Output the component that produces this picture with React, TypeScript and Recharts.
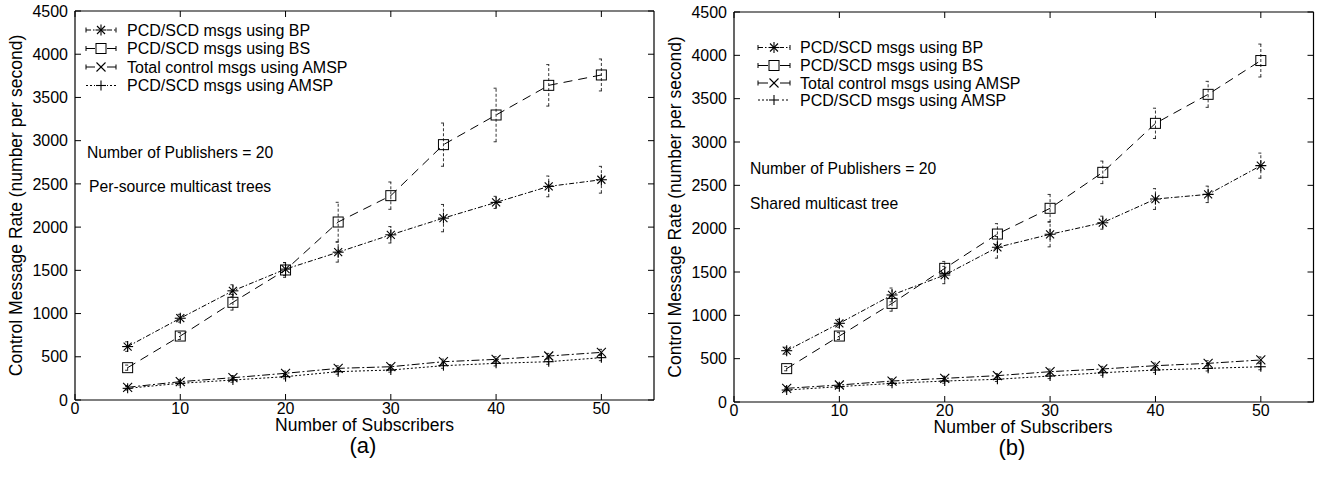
import React from 'react';
import { LineChart, Line, XAxis, YAxis, ErrorBar } from 'recharts';

const FONT = '"Liberation Sans", Arial, Helvetica, sans-serif';

// Categories / ticks
const subscribers = [5, 10, 15, 20, 25, 30, 35, 40, 45, 50];
const xTicks = [0, 10, 20, 30, 40, 50];
const yTicks = [0, 500, 1000, 1500, 2000, 2500, 3000, 3500, 4000, 4500];

const seriesNames = [
  'PCD/SCD msgs using BP',
  'PCD/SCD msgs using BS',
  'Total control msgs using AMSP',
  'PCD/SCD msgs using AMSP',
];

// (a) Per-source multicast trees
const bpA = [618, 946, 1263, 1514, 1710, 1911, 2104, 2286, 2471, 2548];
const bpAErr = [55, 45, 70, 75, 115, 95, 158, 70, 120, 155];
const bsA = [374, 740, 1130, 1504, 2059, 2364, 2954, 3297, 3640, 3760];
const bsAErr = [30, 40, 90, 85, 228, 158, 250, 310, 240, 185];
const totA = [147, 212, 258, 309, 366, 385, 443, 470, 509, 551];
const totAErr = [20, 20, 25, 25, 30, 25, 30, 30, 30, 35];
const amspA = [135, 193, 231, 270, 328, 347, 397, 424, 443, 490];
const amspAErr = [20, 20, 25, 25, 30, 25, 30, 30, 30, 35];

// (b) Shared multicast tree
const bpB = [592, 908, 1235, 1465, 1785, 1935, 2069, 2342, 2396, 2727];
const bpBErr = [40, 45, 80, 100, 125, 145, 75, 120, 95, 145];
const bsB = [385, 761, 1138, 1542, 1938, 2235, 2650, 3215, 3550, 3940];
const bsBErr = [25, 40, 90, 80, 120, 160, 130, 175, 150, 190];
const totB = [158, 196, 242, 273, 304, 350, 381, 419, 446, 485];
const totBErr = [20, 20, 25, 25, 25, 30, 30, 30, 30, 35];
const amspB = [138, 177, 215, 242, 262, 300, 338, 369, 388, 407];
const amspBErr = [20, 20, 25, 25, 25, 30, 30, 30, 30, 35];

const build = (bp: number[], bpE: number[], bs: number[], bsE: number[], tot: number[], totE: number[], am: number[], amE: number[]) =>
  subscribers.map((x, i) => ({
    x,
    bp: bp[i], bpErr: bpE[i],
    bs: bs[i], bsErr: bsE[i],
    tot: tot[i], totErr: totE[i],
    amsp: am[i], amspErr: amE[i],
  }));

const dataA = build(bpA, bpAErr, bsA, bsAErr, totA, totAErr, amspA, amspAErr);
const dataB = build(bpB, bpBErr, bsB, bsBErr, totB, totBErr, amspB, amspBErr);

const DASH = {
  bp: '5 2 1.5 2',
  bs: '9 6',
  tot: '8 2.5 2 2.5',
  amsp: '2 2',
};

function markAsterisk(cx: number, cy: number, k?: string) {
  const r = 5.5;
  const d = 4;
  return (
    <g key={k} stroke="#000" strokeWidth={1.1} fill="none">
      <line x1={cx - r} y1={cy} x2={cx + r} y2={cy} />
      <line x1={cx} y1={cy - r} x2={cx} y2={cy + r} />
      <line x1={cx - d} y1={cy - d} x2={cx + d} y2={cy + d} />
      <line x1={cx - d} y1={cy + d} x2={cx + d} y2={cy - d} />
    </g>
  );
}
function markSquare(cx: number, cy: number, k?: string) {
  const s = 5;
  return <rect key={k} x={cx - s} y={cy - s} width={2 * s} height={2 * s} stroke="#000" strokeWidth={1} fill="none" />;
}
function markX(cx: number, cy: number, k?: string) {
  const d = 4.5;
  return (
    <g key={k} stroke="#000" strokeWidth={1.1}>
      <line x1={cx - d} y1={cy - d} x2={cx + d} y2={cy + d} />
      <line x1={cx - d} y1={cy + d} x2={cx + d} y2={cy - d} />
    </g>
  );
}
function markPlus(cx: number, cy: number, k?: string) {
  const r = 5;
  return (
    <g key={k} stroke="#000" strokeWidth={1.1}>
      <line x1={cx - r} y1={cy} x2={cx + r} y2={cy} />
      <line x1={cx} y1={cy - r} x2={cx} y2={cy + r} />
    </g>
  );
}

const markers = [markAsterisk, markSquare, markX, markPlus];
const keys = ['bp', 'bs', 'tot', 'amsp'] as const;

const NoLabel = () => <g />;

type PanelProps = {
  left: number;
  width: number;
  plotLeft: number;
  plotRight: number;
  plotTop: number;
  plotBottom: number;
  data: any[];
};

function Panel({ left, width, plotLeft, plotRight, plotTop, plotBottom, data }: PanelProps) {
  const xAxisH = 30;
  const margin = {
    top: plotTop - 1,
    right: width - (plotRight - left) - 1,
    bottom: 477 - plotBottom - xAxisH,
    left: 0,
  };
  const tickStyle = { fontSize: 16, fill: '#000', fontFamily: FONT };
  const axisLine = { stroke: '#000', strokeWidth: 1.2 };
  const tickLine = { stroke: '#000', strokeWidth: 1 };
  return (
    <div style={{ position: 'absolute', left, top: 0, width, height: 477 }}>
      <LineChart width={width} height={477} data={data} margin={margin}>
        <XAxis
          xAxisId="b"
          type="number"
          dataKey="x"
          domain={[0, 55]}
          ticks={xTicks}
          interval={0}
          height={xAxisH}
          tickSize={-6}
          tickMargin={9}
          tick={tickStyle}
          axisLine={axisLine}
          tickLine={tickLine}
          allowDataOverflow
        />
        <XAxis
          xAxisId="t"
          orientation="top"
          type="number"
          dataKey="x"
          domain={[0, 55]}
          ticks={xTicks}
          interval={0}
          height={1}
          tickSize={-6}
          tick={NoLabel}
          axisLine={axisLine}
          tickLine={tickLine}
          allowDataOverflow
        />
        <YAxis
          yAxisId="l"
          type="number"
          domain={[0, 4500]}
          ticks={yTicks}
          interval={0}
          width={plotLeft - left}
          tickSize={-6}
          tickMargin={13}
          tick={tickStyle}
          axisLine={axisLine}
          tickLine={tickLine}
          allowDataOverflow
        />
        <YAxis
          yAxisId="r"
          orientation="right"
          type="number"
          domain={[0, 4500]}
          ticks={yTicks}
          interval={0}
          width={1}
          tickSize={-6}
          tick={NoLabel}
          axisLine={axisLine}
          tickLine={tickLine}
          allowDataOverflow
        />
        {keys.map((k, si) => (
          <Line
            key={k}
            xAxisId="b"
            yAxisId="l"
            type="linear"
            dataKey={k}
            stroke="#000"
            strokeWidth={1}
            strokeDasharray={DASH[k]}
            dot={(p: any) => markers[si](p.cx, p.cy, `${k}-${p.index}`)}
            activeDot={false}
            isAnimationActive={false}
          >
            <ErrorBar
              dataKey={`${k}Err`}
              width={2.5}
              stroke="#000"
              strokeWidth={0.8}
              strokeDasharray="3 2"
              direction="y"
              isAnimationActive={false}
            />
          </Line>
        ))}
      </LineChart>
    </div>
  );
}

type LegendCfg = {
  x0: number;
  x1: number;
  mx: number;
  tx: number;
  rows: number[];
};

function LegendBlock({ x0, x1, mx, tx, rows }: LegendCfg) {
  return (
    <g>
      {keys.map((k, i) => {
        const y = rows[i];
        return (
          <g key={k}>
            <line x1={x0} y1={y} x2={x1} y2={y} stroke="#000" strokeWidth={1} strokeDasharray={k === 'bs' || k === 'tot' ? undefined : DASH[k]} />
            {k !== 'amsp' && <line x1={x0} y1={y - 2.5} x2={x0} y2={y + 2.5} stroke="#000" strokeWidth={1} />}
            {k !== 'amsp' && <line x1={x1} y1={y - 2.5} x2={x1} y2={y + 2.5} stroke="#000" strokeWidth={1} />}
            <rect x={mx - 6} y={y - 6} width={12} height={12} fill="#fff" stroke="none" />
            {markers[i](mx, y)}
            <text x={tx} y={y + 5.8} fontSize={16} fontFamily={FONT} fill="#000">
              {seriesNames[i]}
            </text>
          </g>
        );
      })}
    </g>
  );
}

const txt = { fontFamily: FONT, fill: '#000' } as const;

export default function App() {
  return (
    <div style={{ position: 'absolute', left: 0, top: 0, width: 1319, height: 477, background: '#fff', overflow: 'hidden' }}>
      <Panel left={0} width={660} plotLeft={75} plotRight={654} plotTop={11} plotBottom={400} data={dataA} />
      <Panel left={660} width={659} plotLeft={734} plotRight={1313.5} plotTop={12} plotBottom={402} data={dataB} />
      <svg width={1319} height={477} style={{ position: 'absolute', left: 0, top: 0, pointerEvents: 'none' }}>
        {/* Panel (a) */}
        <text {...txt} fontSize={17.5} textAnchor="middle" transform="rotate(-90 22 205.5)" x={22} y={205.5}>
          Control Message Rate (number per second)
        </text>
        <text {...txt} fontSize={17.5} textAnchor="middle" x={364.5} y={431}>Number of Subscribers</text>
        <text {...txt} fontSize={22} textAnchor="middle" x={363} y={453}>(a)</text>
        <LegendBlock x0={86} x1={116} mx={101} tx={127} rows={[30, 48.5, 67, 85.5]} />
        <text {...txt} fontSize={15.7} x={87} y={158}>Number of Publishers = 20</text>
        <text {...txt} fontSize={15.7} x={89} y={192}>Per-source multicast trees</text>

        {/* Panel (b) */}
        <text {...txt} fontSize={17.5} textAnchor="middle" transform="rotate(-90 681 207)" x={681} y={207}>
          Control Message Rate (number per second)
        </text>
        <text {...txt} fontSize={17.5} textAnchor="middle" x={1023} y={433}>Number of Subscribers</text>
        <text {...txt} fontSize={22} textAnchor="middle" x={1012} y={455}>(b)</text>
        <LegendBlock x0={758} x1={790} mx={774} tx={800} rows={[47.5, 65.5, 83, 100]} />
        <text {...txt} fontSize={15.7} x={750} y={174}>Number of Publishers = 20</text>
        <text {...txt} fontSize={15.7} x={750} y={209}>Shared multicast tree</text>
      </svg>
    </div>
  );
}
